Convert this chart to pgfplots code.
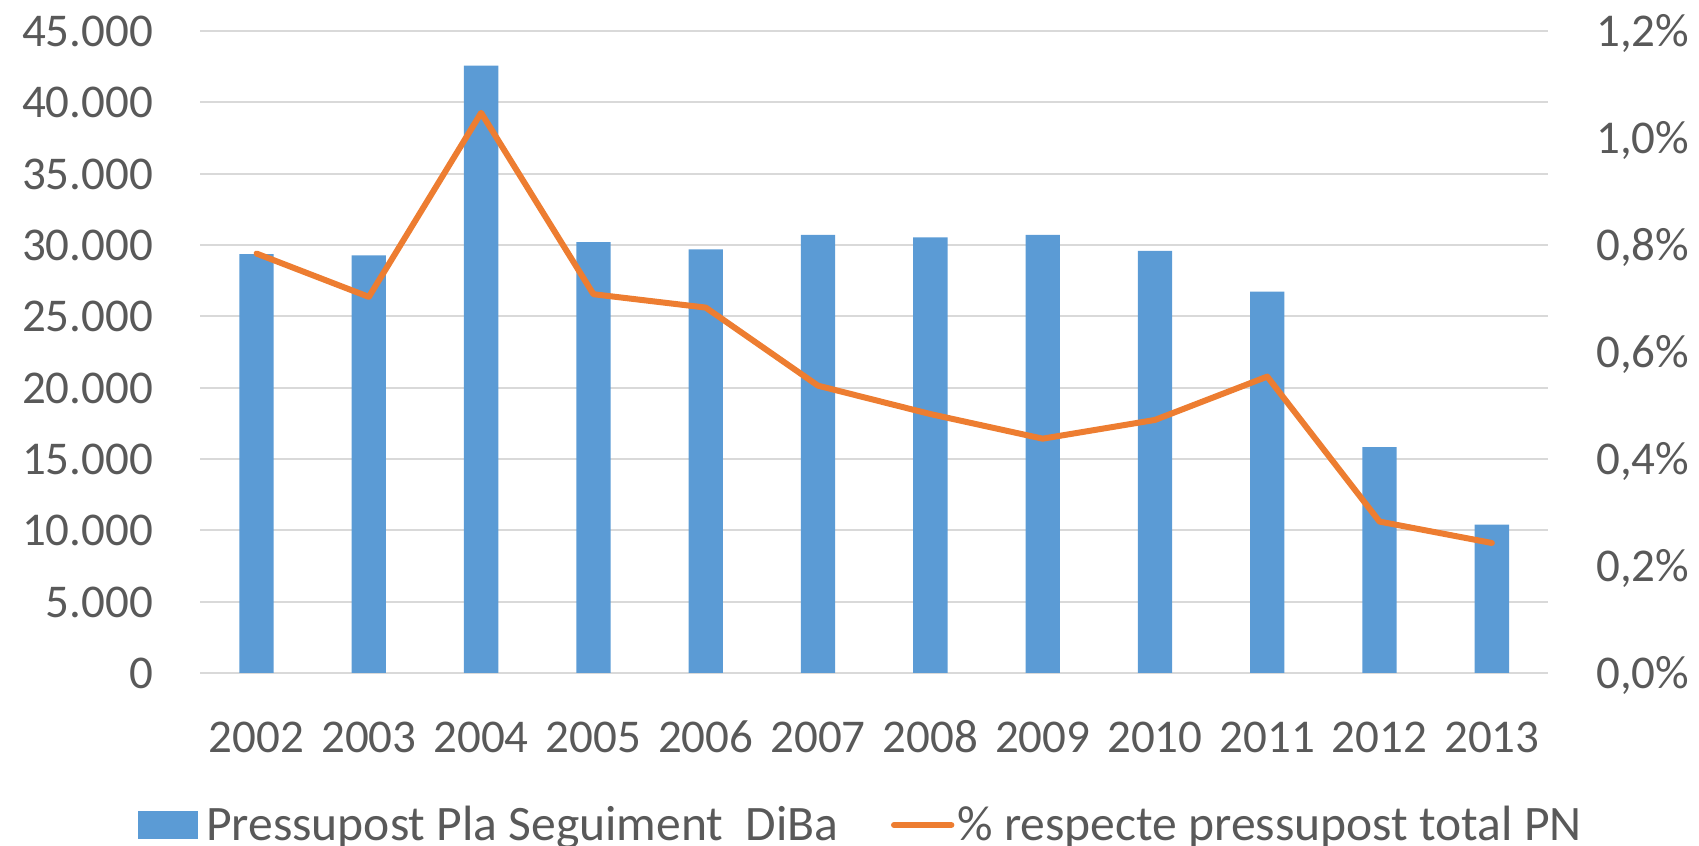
\documentclass[border=0pt]{standalone}
\usepackage{pgfplots}
\pgfplotsset{compat=1.18}
\usepackage{fontspec}
\setmainfont{Carlito}
\definecolor{barblue}{HTML}{5B9BD5}
\definecolor{lineorange}{HTML}{ED7D31}
\definecolor{txtgray}{HTML}{595959}
\definecolor{gridgray}{HTML}{D9D9D9}
\begin{document}
\begin{tikzpicture}
\useasboundingbox (-100.2pt,-86.5pt) rectangle (749.3pt,336.5pt);
\pgfplotsset{
  common/.style={
    scale only axis, width=673.8pt, height=321pt,
    xmin=-0.5, xmax=11.5,
    axis line style={draw=none},
    major tick length=0pt,
    tick style={draw=none},
    scaled y ticks=false,
    every tick label/.append style={font=\fontsize{23.5}{28}\selectfont, text=txtgray, inner sep=0pt},
  }
}
\begin{axis}[common, at={(0,0)}, anchor=south west,
  ymin=0, ymax=45000,
  ytick={0,5000,10000,15000,20000,25000,30000,35000,40000,45000},
  yticklabels={0,5.000,10.000,15.000,20.000,25.000,30.000,35.000,40.000,45.000},
  ymajorgrids, grid style={gridgray, line width=1pt},
  xtick={0,1,2,3,4,5,6,7,8,9,10,11},
  xticklabels={2002,2003,2004,2005,2006,2007,2008,2009,2010,2011,2012,2013},
  xticklabel style={anchor=base, yshift=-39.75pt},
  yticklabel style={anchor=base east, xshift=-23.5pt, yshift=-7.75pt},
  legend columns=2,
  legend style={draw=none, fill=none, inner sep=0pt, outer sep=0pt, column sep=0pt,
    font=\fontsize{24.8}{29}\selectfont, text=txtgray,
    nodes={inner sep=0pt},
    /tikz/every even column/.append style={column sep=26pt},
    at={(axis description cs:0,0)}, anchor=west, xshift=-31pt, yshift=-76pt},
]
\addplot[ybar, bar width=17.15pt, fill=barblue, draw=none,
  legend image code/.code={\fill[barblue] (0pt,-6.9pt) rectangle (30pt,6.9pt); \path (33.85pt,0pt);}]
  coordinates {(0,29360) (1,29270) (2,42570) (3,30200) (4,29690) (5,30710)
               (6,30530) (7,30710) (8,29580) (9,26740) (10,15840) (11,10400)};
\addlegendentry{Pressupost Pla Seguiment\ \ DiBa}
\addlegendimage{legend image code/.code={\draw[lineorange, line width=3pt, line cap=round] (1.5pt,0pt) -- (30.2pt,0pt); \path (0pt,0pt) (33pt,0pt);}}
\addlegendentry{\% respecte pressupost total PN}
\end{axis}
\begin{axis}[common, at={(0,0)}, anchor=south west,
  ymin=0, ymax=1.2,
  xtick=\empty,
  ytick={0,0.2,0.4,0.6,0.8,1.0,1.2},
  yticklabels={{0,0\%},{0,2\%},{0,4\%},{0,6\%},{0,8\%},{1,0\%},{1,2\%}},
  yticklabel pos=right,
  yticklabel style={anchor=base west, xshift=24pt, yshift=-7.75pt},
]
\addplot[lineorange, line width=3pt, line join=round, line cap=round]
  coordinates {(0,0.784) (1,0.703) (2,1.047) (3,0.708) (4,0.683) (5,0.537)
               (6,0.484) (7,0.438) (8,0.473) (9,0.554) (10,0.283) (11,0.243)};
\end{axis}
\end{tikzpicture}
\end{document}
